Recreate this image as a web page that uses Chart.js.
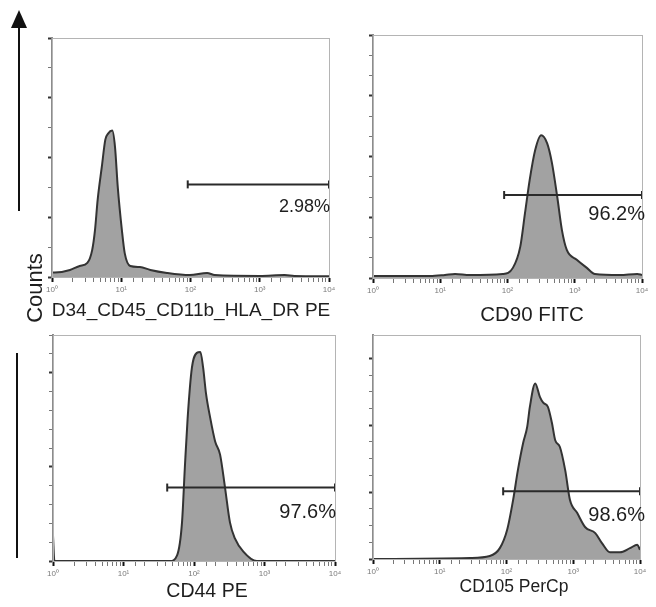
<!DOCTYPE html>
<html>
<head>
<meta charset="utf-8">
<script src="https://cdn.jsdelivr.net/npm/chart.js@4.4.1/dist/chart.umd.min.js"></script>
<style>
  html, body { margin: 0; padding: 0; background: #fff; }
  #wrap { position: relative; width: 656px; height: 607px; }
  #wrap canvas { position: absolute; left: 0; top: 0; }
</style>
</head>
<body>
<div id="wrap">
  <canvas id="p1" width="656" height="607"></canvas>
  <canvas id="p2" width="656" height="607"></canvas>
  <canvas id="p3" width="656" height="607"></canvas>
  <canvas id="p4" width="656" height="607"></canvas>
</div>
<script>
// Histogram data: x in decades (log10 of intensity), y in counts
const cd34Decades = [0, 0.04, 0.26, 0.40, 0.51, 0.58, 0.62, 0.66, 0.72, 0.77, 0.81, 0.87, 0.91, 0.95, 1.01, 1.05, 1.13, 1.27, 1.42, 1.66, 1.99, 2.24, 2.35, 3.0, 3.36, 3.5, 4.0];
const cd34Counts  = [3, 3, 4.7, 7.4, 9.4, 18, 31, 52, 74, 92, 96, 98, 87, 60, 31, 16, 7.4, 6.7, 4.7, 2.7, 1.3, 2.7, 1.3, 0.7, 1.3, 0.7, 0.5];

const cd90Decades = [0, 0.85, 1.07, 1.22, 1.44, 1.93, 2.08, 2.19, 2.26, 2.33, 2.41, 2.50, 2.59, 2.66, 2.74, 2.81, 2.88, 3.03, 3.18, 3.30, 3.67, 3.93, 4.0];
const cd90Counts  = [2, 2, 3, 4, 3, 4, 10, 31, 64, 97, 126, 141, 133, 114, 80, 47, 28, 18, 10, 4, 3, 4, 3];

const cd44Decades = [0, 0.02, 0.5, 1.66, 1.76, 1.83, 1.87, 1.91, 1.97, 2.04, 2.09, 2.13, 2.17, 2.23, 2.30, 2.37, 2.44, 2.51, 2.58, 2.70, 2.89, 4.0];
const cd44Counts  = [27, 0, 0, 0, 6, 41, 99, 152, 205, 221, 222, 205, 178, 152, 127, 113, 78, 41, 24, 10, 0, 0];

const cd105Decades = [0, 1.45, 1.75, 1.90, 2.01, 2.10, 2.17, 2.25, 2.31, 2.35, 2.43, 2.50, 2.55, 2.62, 2.68, 2.73, 2.80, 2.88, 2.95, 3.06, 3.18, 3.33, 3.43, 3.55, 3.70, 3.85, 3.96, 4.0];
const cd105Counts  = [0, 1.2, 3.6, 13, 35, 71, 106, 139, 158, 182, 210, 194, 187, 182, 163, 142, 134, 106, 71, 55, 38, 31, 19, 8, 8, 13, 17, 11];

// Marker gates (decades) and the percentages printed under them
const gateStart = [1.96, 1.95, 1.62, 1.95];
const gateEnd   = [4, 4, 4, 4];
const gateLevel = [62, 82, 78, 81];
const gateLabels = ['2.98%', '96.2%', '97.6%', '98.6%'];
const axisTitles = ['D34_CD45_CD11b_HLA_DR PE', 'CD90 FITC', 'CD44 PE', 'CD105 PerCp'];
const decadeTicks = [0, 1, 2, 3, 4];
const yMax   = [160, 240, 240, 268];
const yStep  = [10, 20, 10, 20];
const yMajor = [40, 60, 50, 80];

const FONT = '"Liberation Sans", Arial, sans-serif';
const SUP = {0: '\u2070', 1: '\u00b9', 2: '\u00b2', 3: '\u00b3', 4: '\u2074'};

// page layout of each panel: plot frame + where the texts sit
const layout = [
    { frame: [52, 38, 329, 277], titleX: 191, titleY: 311, titleSize: 19, pctSize: 18, pctDx: 1, pctDy: 23 },
    { frame: [373, 35, 642, 278], titleX: 532, titleY: 315, titleSize: 20.5, pctSize: 20, pctDx: 3, pctDy: 20 },
    { frame: [53, 335, 335, 561], titleX: 207, titleY: 592, titleSize: 19.5, pctSize: 20, pctDx: 1, pctDy: 25 },
    { frame: [373, 335, 640, 559], titleX: 514, titleY: 587, titleSize: 17.5, pctSize: 20, pctDx: 5, pctDy: 24 }
];

const panelDecor = {
    id: 'panelDecor',
    afterDraw(chart, args, o) {
        const { ctx, chartArea: a, scales } = chart;
        ctx.save();
        ctx.strokeStyle = '#b4b4b4';
        ctx.lineWidth = 1;
        ctx.strokeRect(a.left + 0.5, a.top + 0.5, a.width, a.height);
        const gy = scales.y.getPixelForValue(o.gateLevel);
        ctx.fillStyle = '#1e1e1e';
        ctx.textBaseline = 'middle';
        ctx.textAlign = 'right';
        ctx.font = o.pctSize + 'px ' + FONT;
        ctx.fillText(o.pct, a.right + o.pctDx, gy + o.pctDy);
        ctx.textAlign = 'center';
        ctx.font = o.titleSize + 'px ' + FONT;
        ctx.fillText(o.title, o.titleX, o.titleY);
        ctx.restore();
    }
};

// arrow, "Counts" and the lower bar on the left side
const sideMarks = {
    id: 'sideMarks',
    afterDraw(chart) {
        const ctx = chart.ctx;
        ctx.save();
        ctx.strokeStyle = '#111';
        ctx.fillStyle = '#111';
        ctx.lineWidth = 2;
        ctx.beginPath();
        ctx.moveTo(19, 211); ctx.lineTo(19, 25);
        ctx.moveTo(17, 353); ctx.lineTo(17, 558);
        ctx.stroke();
        ctx.beginPath();
        ctx.moveTo(19, 10); ctx.lineTo(11, 28); ctx.lineTo(27, 28);
        ctx.closePath(); ctx.fill();
        ctx.translate(36, 288);
        ctx.rotate(-Math.PI / 2);
        ctx.fillStyle = '#1e1e1e';
        ctx.font = '22px ' + FONT;
        ctx.textAlign = 'center';
        ctx.textBaseline = 'middle';
        ctx.fillText('Counts', 0, 0);
        ctx.restore();
    }
};

function isDecade(v) {
    const l = Math.log10(v);
    return Math.abs(l - Math.round(l)) < 1e-6;
}

function makePanel(id, i, decades, counts, extra) {
    const L = layout[i];
    const [fl, ft, fr, fb] = L.frame;
    const hist = decades.map((d, k) => ({ x: Math.pow(10, d), y: counts[k] }));
    const gate = [
        { x: Math.pow(10, gateStart[i]), y: gateLevel[i] },
        { x: Math.pow(10, gateEnd[i]), y: gateLevel[i] }
    ];
    return new Chart(document.getElementById(id), {
        type: 'line',
        data: {
            datasets: [
                {
                    data: gate,
                    borderColor: '#2a2a2a',
                    borderWidth: 2,
                    pointStyle: 'line',
                    rotation: 90,
                    pointRadius: 4,
                    pointBorderWidth: 2,
                    pointBorderColor: '#2a2a2a',
                    fill: false,
                    clip: false
                },
                {
                    data: hist,
                    borderColor: '#333333',
                    borderWidth: 2,
                    backgroundColor: '#a2a2a2',
                    fill: 'origin',
                    pointRadius: 0,
                    cubicInterpolationMode: 'monotone'
                }
            ]
        },
        options: {
            responsive: false,
            animation: false,
            layout: { padding: { left: fl - 10, top: ft, right: 656 - fr, bottom: 607 - fb - 22 } },
            plugins: {
                legend: { display: false },
                tooltip: { enabled: false },
                panelDecor: {
                    gateLevel: gateLevel[i], pct: gateLabels[i], title: axisTitles[i],
                    titleX: L.titleX, titleY: L.titleY, titleSize: L.titleSize,
                    pctSize: L.pctSize, pctDx: L.pctDx, pctDy: L.pctDy
                }
            },
            scales: {
                x: {
                    type: 'logarithmic',
                    min: Math.pow(10, decadeTicks[0]),
                    max: Math.pow(10, decadeTicks[decadeTicks.length - 1]),
                    afterFit: s => { s.height = 22; },
                    border: { display: true, color: '#9a9a9a', width: 1 },
                    grid: {
                        drawOnChartArea: false,
                        drawTicks: true,
                        tickLength: 5,
                        tickColor: c => (c.tick && isDecade(c.tick.value)) ? '#111' : '#777',
                        tickWidth: c => (c.tick && isDecade(c.tick.value)) ? 2 : 1
                    },
                    ticks: {
                        autoSkip: false,
                        maxRotation: 0,
                        padding: 3,
                        color: '#7a7a7a',
                        font: { size: 8, family: FONT },
                        callback: v => isDecade(v) ? '10' + SUP[Math.round(Math.log10(v))] : ''
                    }
                },
                y: {
                    type: 'linear',
                    min: 0,
                    max: yMax[i],
                    afterFit: s => { s.width = 10; },
                    border: { display: true, color: '#8c8c8c', width: 2 },
                    grid: {
                        drawOnChartArea: false,
                        drawTicks: true,
                        tickLength: 4,
                        tickColor: c => (c.tick && c.tick.value % yMajor[i] === 0) ? '#333' : '#777',
                        tickWidth: c => (c.tick && c.tick.value % yMajor[i] === 0) ? 2 : 1
                    },
                    ticks: {
                        stepSize: yStep[i],
                        callback: v => (v % yStep[i] === 0) ? '' : null
                    }
                }
            }
        },
        plugins: extra ? [panelDecor, extra] : [panelDecor]
    });
}

makePanel('p1', 0, cd34Decades, cd34Counts, sideMarks);
makePanel('p2', 1, cd90Decades, cd90Counts);
makePanel('p3', 2, cd44Decades, cd44Counts);
makePanel('p4', 3, cd105Decades, cd105Counts);
</script>
</body>
</html>
